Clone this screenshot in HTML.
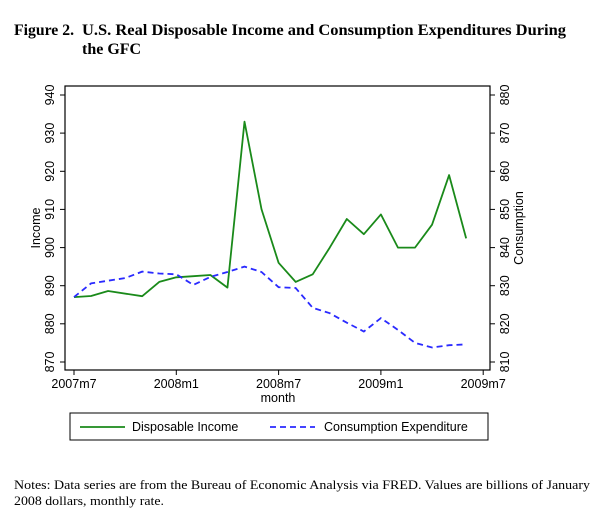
<!DOCTYPE html>
<html><head><style>
body{margin:0;background:#fff;width:608px;height:514px;overflow:hidden;}
svg{display:block}
</style></head><body>
<svg width="608" height="514" xmlns="http://www.w3.org/2000/svg">
<text x="14" y="35" font-family="Liberation Serif,serif" font-weight="bold" font-size="16" textLength="60" lengthAdjust="spacingAndGlyphs">Figure 2.</text>
<text x="82" y="35" font-family="Liberation Serif,serif" font-weight="bold" font-size="16" textLength="484" lengthAdjust="spacingAndGlyphs">U.S. Real Disposable Income and Consumption Expenditures During</text>
<text x="82" y="54" font-family="Liberation Serif,serif" font-weight="bold" font-size="16">the GFC</text>
<rect x="65" y="86" width="425" height="284" fill="none" stroke="#000" stroke-width="1.2"/>
<g stroke="#000" stroke-width="1">
<line x1="60" y1="95" x2="65" y2="95"/><line x1="60" y1="133.1" x2="65" y2="133.1"/><line x1="60" y1="171.3" x2="65" y2="171.3"/><line x1="60" y1="209.4" x2="65" y2="209.4"/><line x1="60" y1="247.6" x2="65" y2="247.6"/><line x1="60" y1="285.7" x2="65" y2="285.7"/><line x1="60" y1="323.8" x2="65" y2="323.8"/><line x1="60" y1="362" x2="65" y2="362"/>
<line x1="490" y1="95" x2="495" y2="95"/><line x1="490" y1="133.1" x2="495" y2="133.1"/><line x1="490" y1="171.3" x2="495" y2="171.3"/><line x1="490" y1="209.4" x2="495" y2="209.4"/><line x1="490" y1="247.6" x2="495" y2="247.6"/><line x1="490" y1="285.7" x2="495" y2="285.7"/><line x1="490" y1="323.8" x2="495" y2="323.8"/><line x1="490" y1="362" x2="495" y2="362"/>
<line x1="74" y1="370" x2="74" y2="375"/><line x1="176.3" y1="370" x2="176.3" y2="375"/><line x1="278.6" y1="370" x2="278.6" y2="375"/><line x1="380.9" y1="370" x2="380.9" y2="375"/><line x1="483.2" y1="370" x2="483.2" y2="375"/>
</g>
<g font-family="Liberation Sans,sans-serif" font-size="12.5" text-anchor="middle">
<text transform="translate(54,95) rotate(-90)">940</text><text transform="translate(54,133.1) rotate(-90)">930</text><text transform="translate(54,171.3) rotate(-90)">920</text><text transform="translate(54,209.4) rotate(-90)">910</text><text transform="translate(54,247.6) rotate(-90)">900</text><text transform="translate(54,285.7) rotate(-90)">890</text><text transform="translate(54,323.8) rotate(-90)">880</text><text transform="translate(54,362) rotate(-90)">870</text>
<text transform="translate(40,228) rotate(-90)">Income</text>
<text transform="translate(509,95) rotate(-90)">880</text><text transform="translate(509,133.1) rotate(-90)">870</text><text transform="translate(509,171.3) rotate(-90)">860</text><text transform="translate(509,209.4) rotate(-90)">850</text><text transform="translate(509,247.6) rotate(-90)">840</text><text transform="translate(509,285.7) rotate(-90)">830</text><text transform="translate(509,323.8) rotate(-90)">820</text><text transform="translate(509,362) rotate(-90)">810</text>
<text transform="translate(523,228) rotate(-90)">Consumption</text>
<text x="74" y="388">2007m7</text><text x="176.3" y="388">2008m1</text><text x="278.6" y="388">2008m7</text><text x="380.9" y="388">2009m1</text><text x="483.2" y="388">2009m7</text>
<text x="278" y="402">month</text>
</g>
<polyline fill="none" stroke="#1a8a1a" stroke-width="1.8" stroke-linejoin="round" points="74,297.1 91.05,296 108.1,291 142.2,296.2 159.25,281.9 176.3,277.3 193.35,276.2 210.4,275 227.45,287.6 244.5,121.7 261.55,209.4 278.6,262.8 295.65,281.9 312.7,274.3 329.75,247.6 346.8,219 363.85,234.2 380.9,214.4 397.95,247.6 415,247.6 432.05,224.7 449.1,175.1 466.15,238.4"/>
<polyline fill="none" stroke="#2a2aff" stroke-width="1.8" stroke-dasharray="6,4" points="74,297.1 91.05,283.4 108.1,280.7 125.15,278.1 142.2,271.6 159.25,273.5 176.3,274.3 193.35,284.9 210.4,276.9 227.45,272 244.5,266.6 261.55,272 278.6,287.2 295.65,288 312.7,307.8 329.75,313.2 346.8,322.7 363.85,331.5 380.9,318.1 397.95,329.9 415,342.9 432.05,347.5 449.1,345.2 466.15,344.4"/>
<rect x="70" y="413" width="418" height="27" fill="none" stroke="#000" stroke-width="1"/>
<line x1="80" y1="427" x2="125" y2="427" stroke="#1a8a1a" stroke-width="1.8"/>
<line x1="270" y1="427" x2="315" y2="427" stroke="#2a2aff" stroke-width="1.8" stroke-dasharray="6,4"/>
<text x="132" y="431" font-family="Liberation Sans,sans-serif" font-size="12.5">Disposable Income</text>
<text x="324" y="431" font-family="Liberation Sans,sans-serif" font-size="12.5">Consumption Expenditure</text>
<text x="14" y="489" font-family="Liberation Serif,serif" font-size="13" textLength="576" lengthAdjust="spacingAndGlyphs">Notes: Data series are from the Bureau of Economic Analysis via FRED. Values are billions of January</text>
<text x="14" y="505" font-family="Liberation Serif,serif" font-size="13" textLength="150" lengthAdjust="spacingAndGlyphs">2008 dollars, monthly rate.</text>
</svg>
</body></html>
